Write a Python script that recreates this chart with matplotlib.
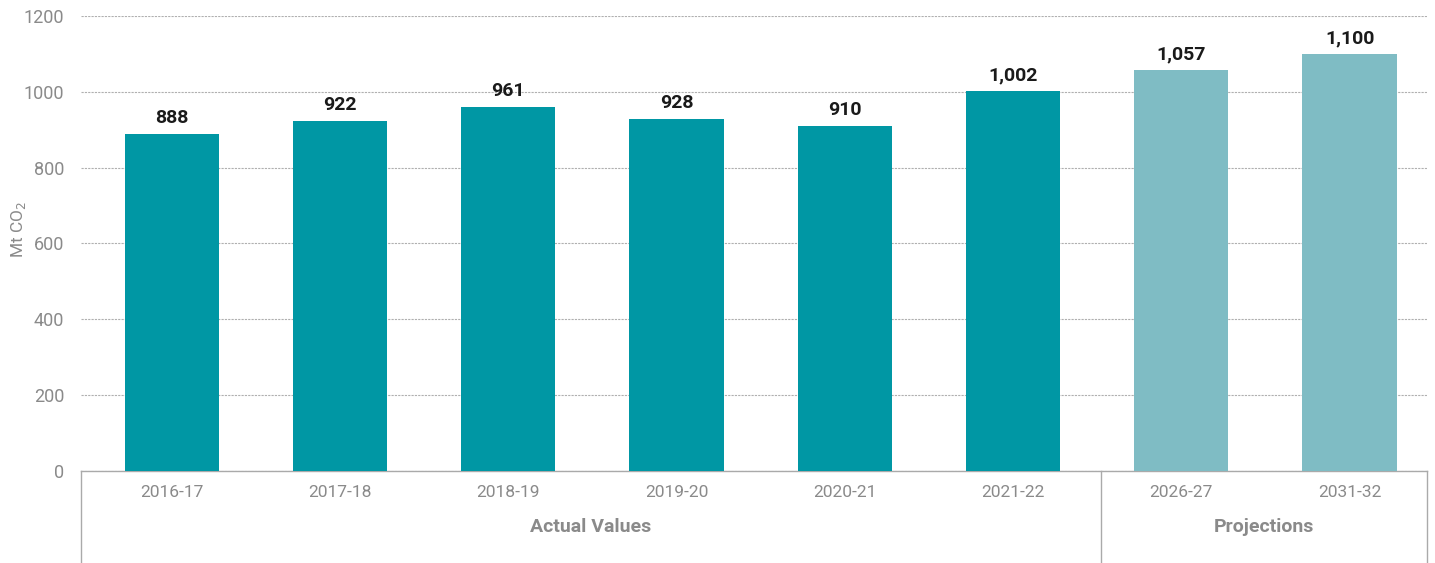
import matplotlib
matplotlib.use("Agg")
import matplotlib.pyplot as plt

# Emissions by year (Mt CO2)
years = ["2016-17", "2017-18", "2018-19", "2019-20", "2020-21", "2021-22", "2026-27", "2031-32"]
emissions = [888, 922, 961, 928, 910, 1002, 1057, 1100]
is_projection = [False, False, False, False, False, False, True, True]
groups = ["Actual Values", "Projections"]

plt.rcParams["font.family"] = ["Roboto", "DejaVu Sans"]

actual_color = "#0097a4"
proj_color = "#7fbcc4"
grey = "#8a8a8a"

fig = plt.figure(figsize=(14.35, 5.63), dpi=100)
ax = fig.add_axes([0.0564, 0.1634, 0.9380, 0.8082])

x = list(range(len(years)))
colors = [proj_color if p else actual_color for p in is_projection]
ax.bar(x, emissions, width=0.56, color=colors, zorder=3)

for xi, v in zip(x, emissions):
    ax.annotate(f"{v:,}", (xi, v), xytext=(0, 5), textcoords="offset points",
                ha="center", va="bottom", fontsize=14, fontweight="bold",
                color="#1a1a1a")

ax.set_xlim(-0.54, 7.46)
ax.set_ylim(0, 1200)
ax.set_yticks(range(0, 1201, 200))
ax.yaxis.grid(True, linestyle=(0, (2, 1)), color="#b0b0b0", linewidth=0.8, zorder=0)
ax.tick_params(axis="y", length=0, labelsize=13, labelcolor=grey, pad=12)
ax.set_xticks(x)
ax.set_xticklabels(years)
ax.tick_params(axis="x", length=0, labelsize=12.5, labelcolor=grey, pad=10)

for side in ["top", "right", "left"]:
    ax.spines[side].set_visible(False)
ax.spines["bottom"].set_color("#aaaaaa")
ax.spines["bottom"].set_linewidth(1)

ax.set_ylabel("Mt CO$_2$", fontsize=12.5, color=grey)
ax.yaxis.set_label_coords(-0.039, 0.53)

# group brackets below the axis
split = 5.52
for xv in [-0.54, split, 7.46]:
    ax.plot([xv, xv], [0, -0.2], transform=ax.get_xaxis_transform(),
            color="#aaaaaa", linewidth=1, clip_on=False)
ax.text((-0.54 + split) / 2, -0.124, groups[0], transform=ax.get_xaxis_transform(),
        ha="center", va="center", fontsize=14, fontweight="bold", color=grey)
ax.text((split + 7.46) / 2, -0.124, groups[1], transform=ax.get_xaxis_transform(),
        ha="center", va="center", fontsize=14, fontweight="bold", color=grey)

fig.savefig("out.png", dpi=100)
